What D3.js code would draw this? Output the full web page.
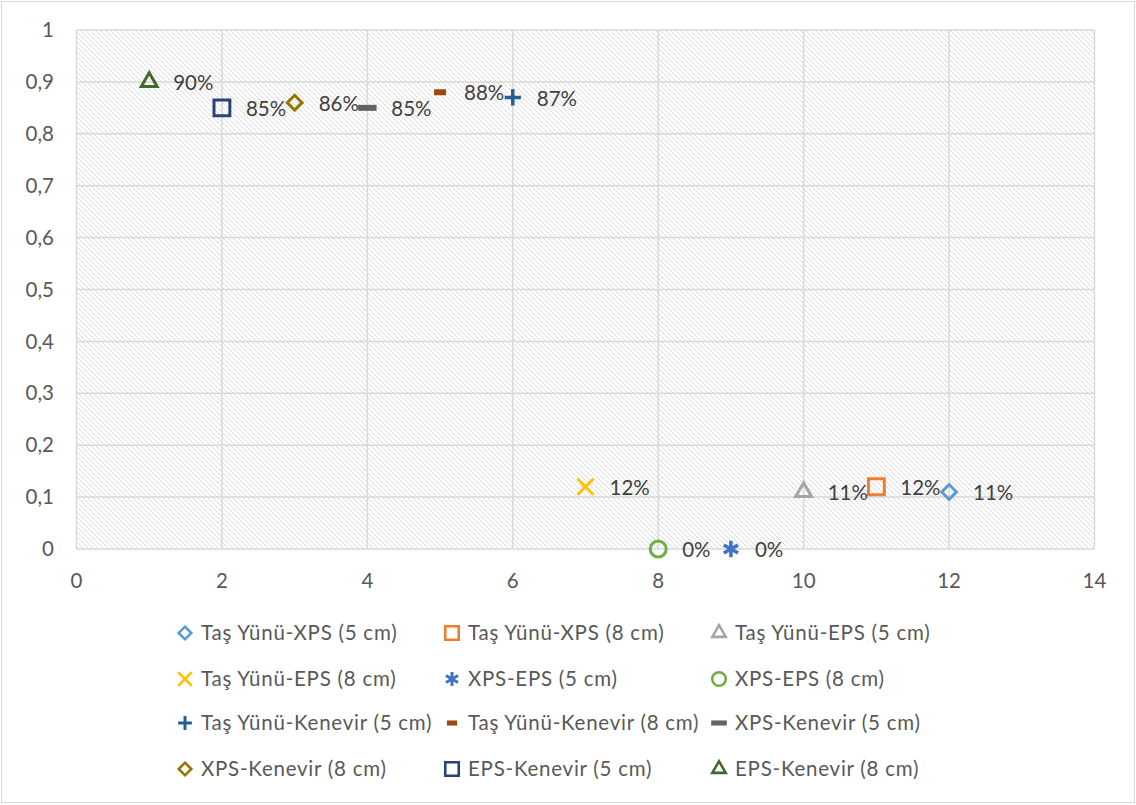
<!DOCTYPE html>
<html>
<head>
<meta charset="utf-8">
<script src="https://cdn.jsdelivr.net/npm/d3@7"></script>
<style>
  html, body { margin: 0; padding: 0; background: #fff; }
  svg text { font-family: Lato, "Open Sans", sans-serif; fill: #595959; font-size: 20.5px; }
</style>
</head>
<body>
<div id="chart"></div>
<script>
var seriesNames = [
  'Taş Yünü-XPS (5 cm)', 'Taş Yünü-XPS (8 cm)', 'Taş Yünü-EPS (5 cm)',
  'Taş Yünü-EPS (8 cm)', 'XPS-EPS (5 cm)', 'XPS-EPS (8 cm)',
  'Taş Yünü-Kenevir (5 cm)', 'Taş Yünü-Kenevir (8 cm)', 'XPS-Kenevir (5 cm)',
  'XPS-Kenevir (8 cm)', 'EPS-Kenevir (5 cm)', 'EPS-Kenevir (8 cm)'
];
var xValues = [12, 11, 10, 7, 9, 8, 6, 5, 4, 3, 2, 1];
var yValues = [0.11, 0.12, 0.11, 0.12, 0, 0, 0.87, 0.88, 0.85, 0.86, 0.85, 0.90];
var pointLabels = ['11%', '12%', '11%', '12%', '0%', '0%', '87%', '88%', '85%', '86%', '85%', '90%'];
var colors = ['#5b9bd5', '#ed7d31', '#a5a5a5', '#ffc000', '#4472c4', '#70ad47',
              '#255e91', '#9e480e', '#636363', '#997300', '#264478', '#43682b'];
var shapes = ['diamond', 'square', 'triangle', 'x', 'asterisk', 'circle',
              'plus', 'dash', 'longdash', 'diamond', 'square', 'triangle'];
var xTicks = [0, 2, 4, 6, 8, 10, 12, 14];
var yTicks = [0, 0.1, 0.2, 0.3, 0.4, 0.5, 0.6, 0.7, 0.8, 0.9, 1];

var width = 1136, height = 805;
var plot = { left: 76.5, right: 1094.5, top: 30, bottom: 549 };

var svg = d3.select('#chart').append('svg')
    .attr('width', width)
    .attr('height', height);

// hatch pattern for plot area
var defs = svg.append('defs');
var pat = defs.append('pattern')
    .attr('id', 'hatch')
    .attr('patternUnits', 'userSpaceOnUse')
    .attr('width', 5).attr('height', 5);
pat.append('rect').attr('width', 5).attr('height', 5).attr('fill', '#fff');
pat.append('path')
    .attr('d', 'M0,0 L5,5 M-1,4 L1,6 M4,-1 L6,1')
    .attr('stroke', '#dadada')
    .attr('stroke-width', 1);

// chart border
svg.append('rect')
    .attr('x', 1.5).attr('y', 1.5)
    .attr('width', width - 3).attr('height', height - 4)
    .attr('fill', 'none').attr('stroke', '#d9d9d9').attr('stroke-width', 1);

var x = d3.scaleLinear().domain([0, 14]).range([plot.left, plot.right]);
var y = d3.scaleLinear().domain([0, 1]).range([plot.bottom, plot.top]);

svg.append('rect')
    .attr('x', plot.left).attr('y', plot.top)
    .attr('width', plot.right - plot.left).attr('height', plot.bottom - plot.top)
    .attr('fill', 'url(#hatch)');

// gridlines
svg.append('g').selectAll('line.v').data(xTicks).enter().append('line')
    .attr('x1', function (d) { return x(d); }).attr('x2', function (d) { return x(d); })
    .attr('y1', plot.top).attr('y2', plot.bottom)
    .attr('stroke', '#d9d9d9').attr('stroke-width', 1.5);
svg.append('g').selectAll('line.h').data(yTicks).enter().append('line')
    .attr('x1', plot.left).attr('x2', plot.right)
    .attr('y1', function (d) { return y(d); }).attr('y2', function (d) { return y(d); })
    .attr('stroke', '#d9d9d9').attr('stroke-width', 1.5);

// tick labels
var fmtY = function (d) { return String(d3.format('.1~f')(d)).replace('.', ','); };
svg.append('g').selectAll('text').data(yTicks).enter().append('text')
    .attr('x', 54).attr('y', function (d) { return y(d); })
    .attr('dy', '0.35em')
    .attr('text-anchor', 'end')
    .text(fmtY);
svg.append('g').selectAll('text').data(xTicks).enter().append('text')
    .attr('x', function (d) { return x(d); }).attr('y', 581)
    .attr('dy', '0.35em')
    .attr('text-anchor', 'middle')
    .text(function (d) { return d; });

// marker shapes
function dashType() {
  return {
    draw: function (context, size) {
      var w = Math.sqrt(size) / 2, h = 3;
      context.rect(-w, -h, 2 * w, 2 * h);
    }
  };
}
var shapeTypes = {
  diamond: d3.symbolDiamond2, square: d3.symbolSquare2, triangle: d3.symbolTriangle2,
  x: d3.symbolX, asterisk: d3.symbolAsterisk, circle: d3.symbolCircle,
  plus: d3.symbolPlus, dash: dashType(), longdash: dashType()
};
var shapeSizes = {
  diamond: 140, square: 320, triangle: 180, x: 168, asterisk: 190, circle: 200,
  plus: 88, dash: 144, longdash: 340
};
function markerPath(s) {
  return d3.symbol().type(shapeTypes[s]).size(shapeSizes[s])();
}
function drawMarker(g, s, c) {
  var filled = (s === 'dash' || s === 'longdash');
  g.append('path')
    .attr('d', markerPath(s))
    .attr('fill', filled ? c : 'none')
    .attr('stroke', filled ? 'none' : c)
    .attr('stroke-width', (s === 'plus' || s === 'asterisk') ? 3.5 : 3)
    .attr('stroke-linejoin', 'miter');
}

var points = seriesNames.map(function (n, i) {
  return { name: n, x: xValues[i], y: yValues[i], label: pointLabels[i], color: colors[i], shape: shapes[i] };
});

var pts = svg.append('g').selectAll('g').data(points).enter().append('g')
    .attr('transform', function (d) { return 'translate(' + x(d.x) + ',' + y(d.y) + ')'; });
pts.each(function (d) { drawMarker(d3.select(this), d.shape, d.color); });

svg.append('g').selectAll('text').data(points).enter().append('text')
    .attr('x', function (d) { return x(d.x) + 24; })
    .attr('y', function (d) { return y(d.y) + 1; })
    .attr('dy', '0.35em')
    .style('fill', '#404040')
    .text(function (d) { return d.label; });

// legend
var legCols = [185, 452, 719];
var legRows = [633, 679, 723, 769];
var leg = svg.append('g').selectAll('g').data(points).enter().append('g')
    .attr('transform', function (d, i) {
      return 'translate(' + legCols[i % 3] + ',' + legRows[Math.floor(i / 3)] + ')';
    });
leg.each(function (d) {
  var g = d3.select(this).append('g').attr('transform', 'scale(0.85)');
  drawMarker(g, d.shape, d.color);
});
leg.append('text')
    .attr('x', 16).attr('y', 0)
    .attr('dy', '0.35em')
    .style('letter-spacing', '0.75px')
    .text(function (d) { return d.name; });
</script>
</body>
</html>
